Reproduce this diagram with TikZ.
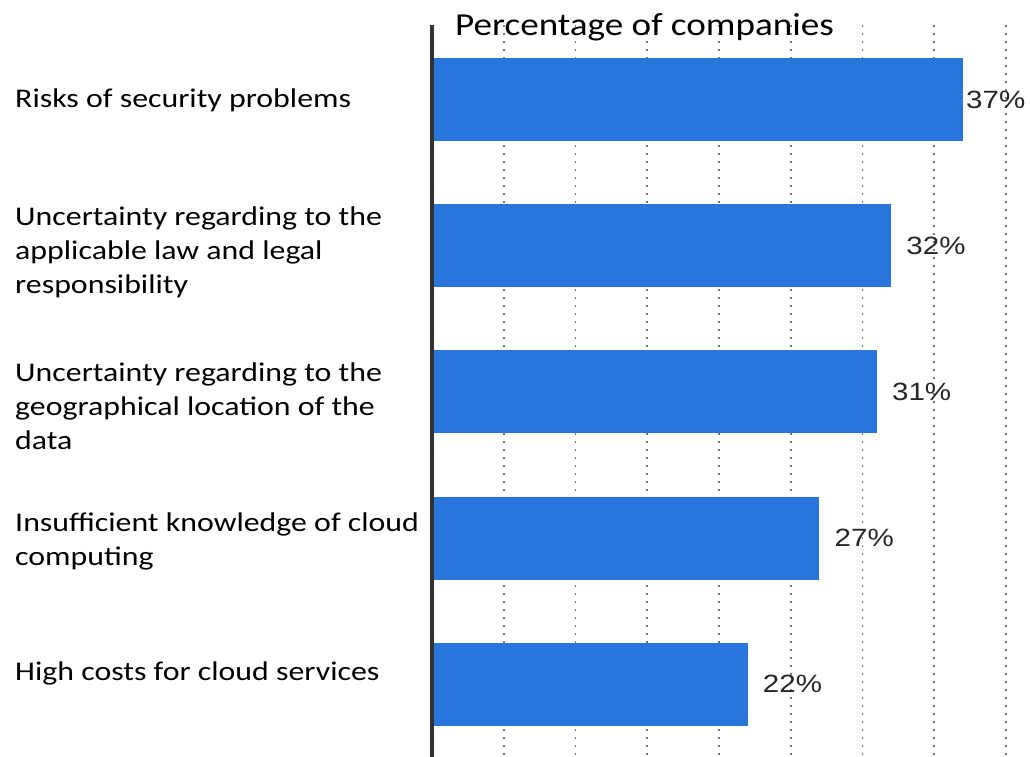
\documentclass[tikz,border=0pt]{standalone}
\usepackage{fontspec}
\setmainfont{Carlito}
\newfontfamily\valfont{Liberation Sans}
\definecolor{barblue}{RGB}{40,117,220}
\definecolor{axisgray}{RGB}{50,50,50}
\definecolor{dotgray}{RGB}{120,120,120}
\tikzset{
  griddots/.style={dotgray, line width=1.6pt, dash pattern=on 1.6pt off 6.4pt},
  valtext/.style={anchor=west, inner sep=0pt, xscale=1.18, text=black!85, font=\valfont\fontsize{25}{25}\selectfont},
  cattext/.style={anchor=west, inner sep=0pt, xscale=1.18, align=left, font=\fontsize{27}{34}\selectfont}
}
\begin{document}
\begin{tikzpicture}[x=1pt, y=-1pt]
    \useasboundingbox (0,0) rectangle (1030,757);
    % dotted grid every 5%
    \foreach \k in {1,...,8}
    \draw[griddots] ({432+71.75*\k},25) -- ({432+71.75*\k},757);
    % bars and values
    \foreach \i/\val/\gap in {0/37/3, 1/32/15, 2/31/15, 3/27/15, 4/22/15}{
    \fill[barblue] (432,{58+146.2*\i}) rectangle ({432+14.35*\val},{141+146.2*\i});
    \node[valtext] (v\val) at ({432+14.35*\val+\gap},{99.5+146.2*\i}) {\val\%};
    }
    \draw[axisgray, line width=4pt] (432,25) -- (432,757);
    \node[anchor=base west, inner sep=0pt, xscale=1.16, font=\fontsize{32}{32}\selectfont] (title) at (455,36) {Percentage of companies};
    % categories
    \node[cattext] (security) at (15,100.5) {Risks of security problems};
    \node[cattext] (law) at (15,252) {Uncertainty regarding to the\\applicable law and legal\\responsibility};
    \node[cattext] (location) at (15,406) {Uncertainty regarding to the\\geographical location of the\\data};
    \node[cattext] (knowledge) at (15,541) {Insufficient knowledge of cloud\\computing};
    \node[cattext] (costs) at (15,673) {High costs for cloud services};
  \end{tikzpicture}
\end{document}
